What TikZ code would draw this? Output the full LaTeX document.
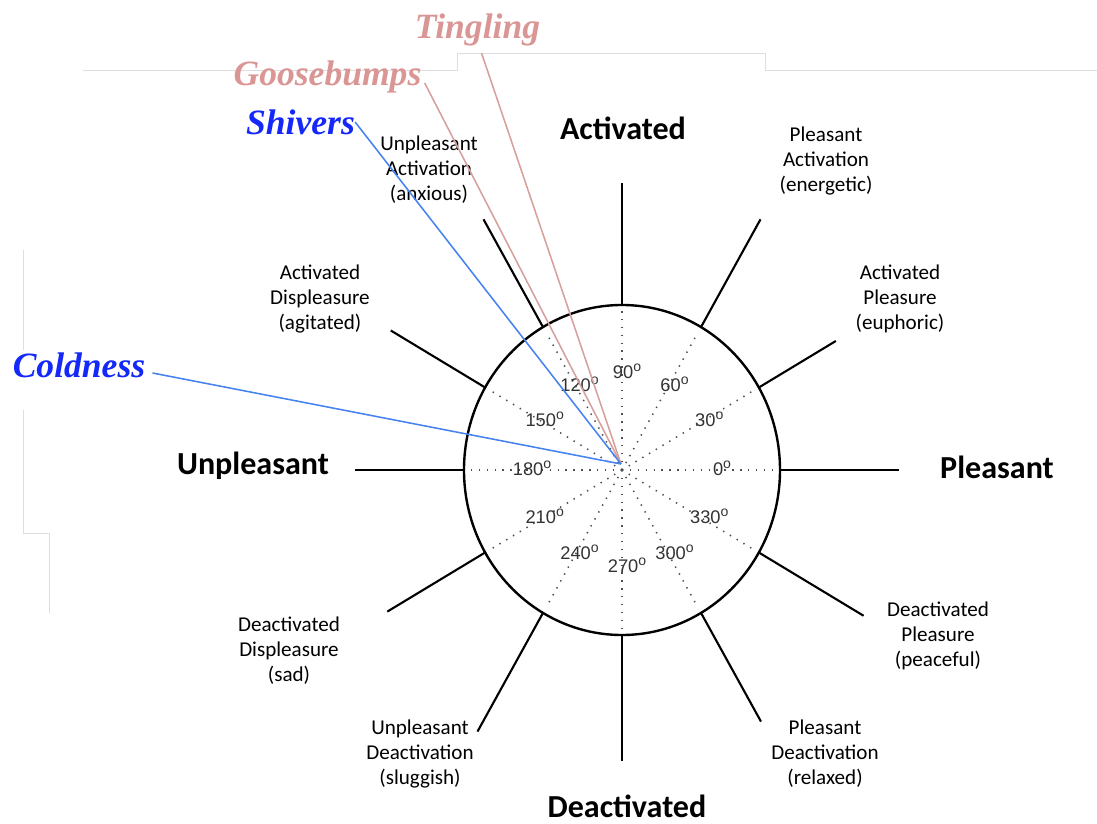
\documentclass[tikz,border=0pt]{standalone}
\usepackage{fontspec}
\setmainfont{Carlito}
\newfontfamily\serifbi{Liberation Serif}
\newfontfamily\helv{Liberation Sans}
\definecolor{rosy}{RGB}{217,150,148}
\definecolor{rosyline}{RGB}{214,160,156}
\definecolor{vivid}{RGB}{20,40,250}
\definecolor{vividline}{RGB}{70,130,240}
\definecolor{pastegray}{RGB}{222,222,222}
\definecolor{dotgray}{RGB}{80,80,80}
\newcommand\degsign{\raisebox{0.75ex}{\fontsize{10}{10}\selectfont o}}
\begin{document}
\begin{tikzpicture}[x=0.025cm,y=0.025cm,
		spoke/.style={line width=1.5pt,black},
		rim/.style={line width=1.7pt,black},
		dotline/.style={dotgray,line width=1.1pt,dash pattern=on 1pt off 4.6pt},
		degree/.style={text=black!80,font=\helv\fontsize{13}{14}\selectfont,inner sep=0pt},
		sublabel/.style={align=center,font=\fontsize{15}{17.8}\selectfont,inner sep=0pt},
		axislabel/.style={font=\bfseries\fontsize{22.8}{26}\selectfont,inner sep=0pt},
		feel/.style={font=\serifbi\bfseries\itshape\fontsize{25.3}{30}\selectfont,inner sep=0pt,anchor=base},
		feelpink/.style={feel,text=rosy},
		feelblue/.style={feel,text=vivid},
		pinkline/.style={rosyline,line width=1.1pt},
		blueline/.style={vividline,line width=1.1pt},
		paste/.style={pastegray,line width=0.6pt}]
	\useasboundingbox (-622,-353) rectangle (475,470);

	% faint edges of the pasted pieces
	\draw [paste] (-539,400) -- (-165,400) -- (-165,417) -- (143,417) -- (143,400) -- (475,400);
	\draw [paste] (-599,220) -- (-599,120);
	\draw [paste] (-599,60) -- (-599,-63) -- (-573,-63) -- (-573,-143);

	% polar grid
	\foreach \a in {0,30,...,330}
		\draw [dotline] (0,0) -- ({152*cos(\a)},{159*sin(\a)});
	\draw [rim] (0,0) ellipse [x radius=158, y radius=165];
	\foreach \a/\r in {0/277,30/247,60/277,90/275,120/277,150/267,180/267,210/271,240/289,270/278,300/278,330/279}
		\draw [spoke] ({158*cos(\a)},{165*sin(\a)}) -- ({\r*cos(\a)},{1.045*\r*sin(\a)});
	\foreach \a in {0,30,...,330}
		\node [degree] (deg\a) at ({5+95*cos(\a)},{2+97*sin(\a)}) {\a\degsign};

	% axes
	\node [axislabel] (act) at (1,342) {Activated};
	\node [axislabel] (deact) at (5,-336) {Deactivated};
	\node [axislabel] (unpl) at (-369,4) {Unpleasant};
	\node [axislabel] (pleas) at (375,3) {Pleasant};

	% octants
	\node [sublabel] (ua) at (-193,300) {Unpleasant\\Activation\\(anxious)};
	\node [sublabel] (pa) at (204,309) {Pleasant\\Activation\\(energetic)};
	\node [sublabel] (ad) at (-302,171) {Activated\\Displeasure\\(agitated)};
	\node [sublabel] (ap) at (278,171) {Activated\\Pleasure\\(euphoric)};
	\node [sublabel] (dd) at (-333,-181) {Deactivated\\Displeasure\\(sad)};
	\node [sublabel] (dp) at (316,-166) {Deactivated\\Pleasure\\(peaceful)};
	\node [sublabel] (ud) at (-202,-284) {Unpleasant\\Deactivation\\(sluggish)};
	\node [sublabel] (pd) at (203,-284) {Pleasant\\Deactivation\\(relaxed)};

	% feelings pointing to the centre
	\coordinate (hub) at (-1,6);
	\node [feelpink] (tingling) at (-144.5,431) {Tingling};
	\node [feelpink] (goose) at (-294.5,384) {Goosebumps};
	\node [feelblue] (shivers) at (-321.5,335) {Shivers};
	\node [feelblue] (cold) at (-543,93) {Coldness};
	\draw [pinkline] ([shift={(4,-14)}]tingling.base) -- (hub);
	\draw [pinkline] ([shift={(3,3)}]goose.base east) -- (hub);
	\draw [blueline] ([shift={(0,13)}]shivers.base east) -- (hub);
	\draw [blueline] ([shift={(7,4)}]cold.base east) -- (hub);
\end{tikzpicture}
\end{document}
